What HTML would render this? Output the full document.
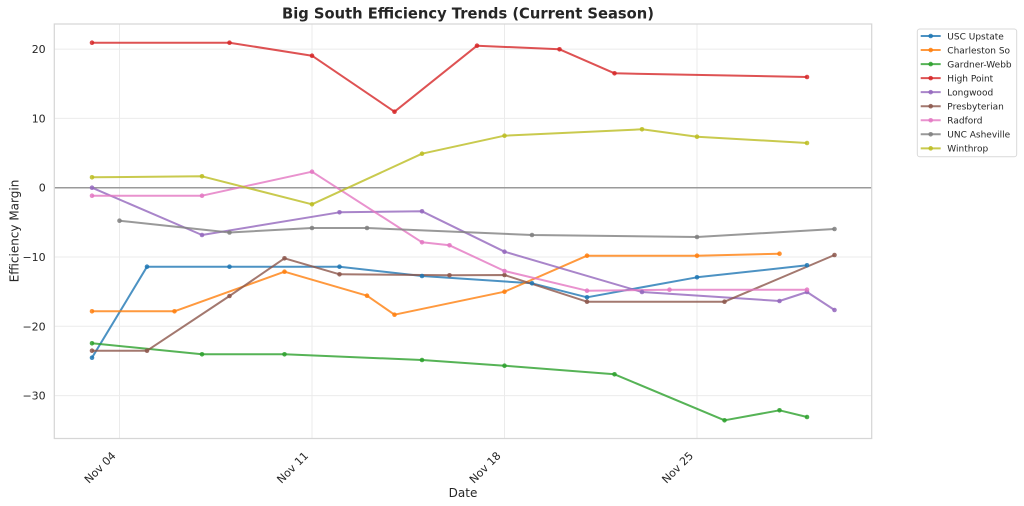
<!DOCTYPE html>
<html><head><meta charset="utf-8"><style>
html,body{margin:0;padding:0;background:#fff;}
svg{display:block;font-family:"DejaVu Sans","Liberation Sans",sans-serif;}
</style></head><body>
<svg width="1024" height="506" viewBox="0 0 1024 506" xmlns="http://www.w3.org/2000/svg">
<rect width="1024" height="506" fill="#fff"/>
<!-- grid -->
<g stroke="#ebebeb" stroke-width="1">
<line x1="54.3" x2="871.7" y1="49.1" y2="49.1"/>
<line x1="54.3" x2="871.7" y1="118.4" y2="118.4"/>
<line x1="54.3" x2="871.7" y1="257" y2="257"/>
<line x1="54.3" x2="871.7" y1="326.3" y2="326.3"/>
<line x1="54.3" x2="871.7" y1="395.6" y2="395.6"/>
<line x1="119.5" x2="119.5" y1="24" y2="438.5"/>
<line x1="312" x2="312" y1="24" y2="438.5"/>
<line x1="504.5" x2="504.5" y1="24" y2="438.5"/>
<line x1="697" x2="697" y1="24" y2="438.5"/>
</g>
<!-- zero line -->
<line x1="54.3" x2="871.7" y1="187.7" y2="187.7" stroke="#9a9a9a" stroke-width="1.5"/>
<!-- spines -->
<rect x="54.3" y="24" width="817.4" height="414.5" fill="none" stroke="#d6d6d6" stroke-width="1.25"/>

<!-- series -->
<g fill="none" stroke-width="2" stroke-linejoin="round" stroke-opacity="0.8">
<polyline stroke="#1f77b4" points="92,357.7 147,266.7 229.5,266.7 339.5,266.7 422,276 532,283.3 587,297.3 697,277.3 807,265.3"/>
<polyline stroke="#ff7f0e" points="92,311.3 174.5,311.3 284.5,271.7 367,295.7 394.5,314.7 504.5,291.7 587,255.7 697,255.7 779.5,253.7"/>
<polyline stroke="#2ca02c" points="92,343.3 202,354.3 284.5,354.3 422,360 504.5,365.7 614.5,374.3 724.5,420.3 779.5,410.3 807,417"/>
<polyline stroke="#d62728" points="92,42.7 229.5,42.7 312,55.7 394.5,111.7 477,45.7 559.5,49.3 614.5,73.3 807,77"/>
<polyline stroke="#9467bd" points="92,187.7 202,235 339.5,212.3 422,211.3 504.5,251.7 642,292 779.5,301 807,292 834.5,310"/>
<polyline stroke="#8c564b" points="92,350.7 147,350.7 229.5,296 284.5,258.3 339.5,274.3 449.5,275.3 504.5,275 587,301.7 724.5,301.7 834.5,255"/>
<polyline stroke="#e377c2" points="92,195.7 202,195.7 312,171.7 422,242.3 449.5,245.3 504.5,271 587,290.7 669.5,289.7 807,289.7"/>
<polyline stroke="#7f7f7f" points="119.5,220.7 229.5,232.5 312,228 367,228 532,235 697,237 834.5,229"/>
<polyline stroke="#bcbd22" points="92,177.3 202,176.3 312,204.3 422,153.7 504.5,135.7 642,129.3 697,136.7 807,143"/>
</g>
<!-- markers -->
<g fill-opacity="0.85">
<g fill="#1f77b4"><circle cx="92" cy="357.7" r="2.3"/><circle cx="147" cy="266.7" r="2.3"/><circle cx="229.5" cy="266.7" r="2.3"/><circle cx="339.5" cy="266.7" r="2.3"/><circle cx="422" cy="276" r="2.3"/><circle cx="532" cy="283.3" r="2.3"/><circle cx="587" cy="297.3" r="2.3"/><circle cx="697" cy="277.3" r="2.3"/><circle cx="807" cy="265.3" r="2.3"/></g>
<g fill="#ff7f0e"><circle cx="92" cy="311.3" r="2.3"/><circle cx="174.5" cy="311.3" r="2.3"/><circle cx="284.5" cy="271.7" r="2.3"/><circle cx="367" cy="295.7" r="2.3"/><circle cx="394.5" cy="314.7" r="2.3"/><circle cx="504.5" cy="291.7" r="2.3"/><circle cx="587" cy="255.7" r="2.3"/><circle cx="697" cy="255.7" r="2.3"/><circle cx="779.5" cy="253.7" r="2.3"/></g>
<g fill="#2ca02c"><circle cx="92" cy="343.3" r="2.3"/><circle cx="202" cy="354.3" r="2.3"/><circle cx="284.5" cy="354.3" r="2.3"/><circle cx="422" cy="360" r="2.3"/><circle cx="504.5" cy="365.7" r="2.3"/><circle cx="614.5" cy="374.3" r="2.3"/><circle cx="724.5" cy="420.3" r="2.3"/><circle cx="779.5" cy="410.3" r="2.3"/><circle cx="807" cy="417" r="2.3"/></g>
<g fill="#d62728"><circle cx="92" cy="42.7" r="2.3"/><circle cx="229.5" cy="42.7" r="2.3"/><circle cx="312" cy="55.7" r="2.3"/><circle cx="394.5" cy="111.7" r="2.3"/><circle cx="477" cy="45.7" r="2.3"/><circle cx="559.5" cy="49.3" r="2.3"/><circle cx="614.5" cy="73.3" r="2.3"/><circle cx="807" cy="77" r="2.3"/></g>
<g fill="#9467bd"><circle cx="92" cy="187.7" r="2.3"/><circle cx="202" cy="235" r="2.3"/><circle cx="339.5" cy="212.3" r="2.3"/><circle cx="422" cy="211.3" r="2.3"/><circle cx="504.5" cy="251.7" r="2.3"/><circle cx="642" cy="292" r="2.3"/><circle cx="779.5" cy="301" r="2.3"/><circle cx="807" cy="292" r="2.3"/><circle cx="834.5" cy="310" r="2.3"/></g>
<g fill="#8c564b"><circle cx="92" cy="350.7" r="2.3"/><circle cx="147" cy="350.7" r="2.3"/><circle cx="229.5" cy="296" r="2.3"/><circle cx="284.5" cy="258.3" r="2.3"/><circle cx="339.5" cy="274.3" r="2.3"/><circle cx="449.5" cy="275.3" r="2.3"/><circle cx="504.5" cy="275" r="2.3"/><circle cx="587" cy="301.7" r="2.3"/><circle cx="724.5" cy="301.7" r="2.3"/><circle cx="834.5" cy="255" r="2.3"/></g>
<g fill="#e377c2"><circle cx="92" cy="195.7" r="2.3"/><circle cx="202" cy="195.7" r="2.3"/><circle cx="312" cy="171.7" r="2.3"/><circle cx="422" cy="242.3" r="2.3"/><circle cx="449.5" cy="245.3" r="2.3"/><circle cx="504.5" cy="271" r="2.3"/><circle cx="587" cy="290.7" r="2.3"/><circle cx="669.5" cy="289.7" r="2.3"/><circle cx="807" cy="289.7" r="2.3"/></g>
<g fill="#7f7f7f"><circle cx="119.5" cy="220.7" r="2.3"/><circle cx="229.5" cy="232.5" r="2.3"/><circle cx="312" cy="228" r="2.3"/><circle cx="367" cy="228" r="2.3"/><circle cx="532" cy="235" r="2.3"/><circle cx="697" cy="237" r="2.3"/><circle cx="834.5" cy="229" r="2.3"/></g>
<g fill="#bcbd22"><circle cx="92" cy="177.3" r="2.3"/><circle cx="202" cy="176.3" r="2.3"/><circle cx="312" cy="204.3" r="2.3"/><circle cx="422" cy="153.7" r="2.3"/><circle cx="504.5" cy="135.7" r="2.3"/><circle cx="642" cy="129.3" r="2.3"/><circle cx="697" cy="136.7" r="2.3"/><circle cx="807" cy="143" r="2.3"/></g>
</g>

<!-- title -->
<text x="468" y="18.5" text-anchor="middle" font-size="15" font-weight="bold" fill="#262626" textLength="372" lengthAdjust="spacingAndGlyphs">Big South Efficiency Trends (Current Season)</text>

<!-- y ticks -->
<g font-size="11" fill="#262626" text-anchor="end">
<text x="45.7" y="53.1">20</text>
<text x="45.7" y="122.4">10</text>
<text x="45.7" y="191.7">0</text>
<text x="45.7" y="261">−10</text>
<text x="45.7" y="330.3">−20</text>
<text x="45.7" y="399.6">−30</text>
</g>
<!-- x ticks -->
<g font-size="11" fill="#262626" text-anchor="end">
<text x="116.5" y="456.4" transform="rotate(-45 116.5 456.4)">Nov 04</text>
<text x="309" y="456.4" transform="rotate(-45 309 456.4)">Nov 11</text>
<text x="501.5" y="456.4" transform="rotate(-45 501.5 456.4)">Nov 18</text>
<text x="694" y="456.4" transform="rotate(-45 694 456.4)">Nov 25</text>
</g>
<!-- axis labels -->
<text x="463" y="497" text-anchor="middle" font-size="12" fill="#262626">Date</text>
<text x="18.5" y="231" text-anchor="middle" font-size="12" fill="#262626" transform="rotate(-90 18.5 231)">Efficiency Margin</text>

<!-- legend -->
<rect x="917.3" y="29" width="99.4" height="127.7" rx="2.5" fill="#fff" fill-opacity="0.85" stroke="#d9d9d9" stroke-width="1"/>
<g stroke-width="2" stroke-opacity="0.8">
<line x1="920.7" x2="940.7" y1="36" y2="36" stroke="#1f77b4"/>
<line x1="920.7" x2="940.7" y1="50.04" y2="50.04" stroke="#ff7f0e"/>
<line x1="920.7" x2="940.7" y1="64.08" y2="64.08" stroke="#2ca02c"/>
<line x1="920.7" x2="940.7" y1="78.12" y2="78.12" stroke="#d62728"/>
<line x1="920.7" x2="940.7" y1="92.16" y2="92.16" stroke="#9467bd"/>
<line x1="920.7" x2="940.7" y1="106.2" y2="106.2" stroke="#8c564b"/>
<line x1="920.7" x2="940.7" y1="120.24" y2="120.24" stroke="#e377c2"/>
<line x1="920.7" x2="940.7" y1="134.28" y2="134.28" stroke="#7f7f7f"/>
<line x1="920.7" x2="940.7" y1="148.32" y2="148.32" stroke="#bcbd22"/>
</g>
<g fill-opacity="0.85">
<circle cx="930.7" cy="36" r="2.3" fill="#1f77b4"/>
<circle cx="930.7" cy="50.04" r="2.3" fill="#ff7f0e"/>
<circle cx="930.7" cy="64.08" r="2.3" fill="#2ca02c"/>
<circle cx="930.7" cy="78.12" r="2.3" fill="#d62728"/>
<circle cx="930.7" cy="92.16" r="2.3" fill="#9467bd"/>
<circle cx="930.7" cy="106.2" r="2.3" fill="#8c564b"/>
<circle cx="930.7" cy="120.24" r="2.3" fill="#e377c2"/>
<circle cx="930.7" cy="134.28" r="2.3" fill="#7f7f7f"/>
<circle cx="930.7" cy="148.32" r="2.3" fill="#bcbd22"/>
</g>
<g font-size="9" fill="#262626">
<text x="947.3" y="39.3">USC Upstate</text>
<text x="947.3" y="53.34">Charleston So</text>
<text x="947.3" y="67.38">Gardner-Webb</text>
<text x="947.3" y="81.42">High Point</text>
<text x="947.3" y="95.46">Longwood</text>
<text x="947.3" y="109.5">Presbyterian</text>
<text x="947.3" y="123.54">Radford</text>
<text x="947.3" y="137.58">UNC Asheville</text>
<text x="947.3" y="151.62">Winthrop</text>
</g>
</svg>
</body></html>
